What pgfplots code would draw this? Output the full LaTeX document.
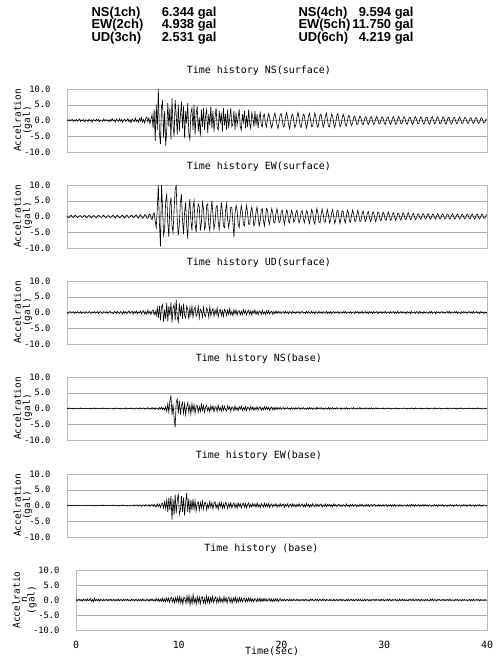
\documentclass[border=0pt]{standalone}
\usepackage{fontspec}
\setmainfont{DejaVu Sans}
\setmonofont{DejaVu Sans Mono}
\newfontfamily\hdr{Liberation Sans}
\usepackage{pgfplots}
\usepackage{pgfplotstable}
\pgfplotsset{compat=1.18}

% NS surface (0.1 s per value)
\pgfplotstableread[header=false,row sep=\\]{
0.2\\-0.1\\0.3\\-0.2\\0.1\\0.4\\-0.3\\0.2\\-0.1\\0.3\\
-0.2\\0.1\\0.5\\-0.3\\0.2\\-0.1\\0.3\\-0.4\\0.2\\0.1\\
-0.3\\0.4\\-0.1\\0.2\\-0.5\\0.3\\0.1\\-0.2\\0.4\\-0.1\\
0.3\\-0.4\\0.2\\0.1\\-0.3\\0.5\\-0.2\\0.3\\-0.1\\0.2\\
-0.4\\0.3\\-0.2\\0.6\\-0.1\\0.2\\-0.5\\0.4\\0.1\\-0.3\\
0.5\\-0.2\\0.3\\-0.6\\0.2\\0.4\\-0.3\\0.1\\0.6\\-0.4\\
0.3\\-0.7\\0.5\\0.1\\-0.4\\0.8\\-0.3\\0.2\\-0.6\\0.7\\
-0.2\\0.9\\-0.5\\0.3\\-0.8\\0.6\\1.1\\-0.4\\0.8\\-1.0\\
0.5\\1.8\\-2.5\\3.5\\-6.5\\5.0\\-3.0\\10.0\\-4.0\\-7.5\\
4.5\\6.0\\-5.5\\3.0\\-8.0\\-3.0\\5.5\\-2.0\\4.0\\-6.0\\
7.0\\-1.5\\-5.0\\6.5\\2.0\\-4.5\\5.0\\-3.5\\1.5\\6.0\\
-2.5\\4.5\\-5.5\\3.0\\-1.0\\5.5\\-4.0\\-6.0\\2.5\\4.0\\
-3.0\\5.0\\-4.5\\2.0\\4.5\\-3.5\\1.0\\-5.0\\3.5\\-2.0\\
4.0\\-3.0\\1.5\\3.5\\-4.0\\2.0\\-1.5\\4.5\\-2.5\\3.0\\
-3.5\\1.0\\4.0\\-2.0\\-3.0\\3.0\\-1.0\\2.5\\-3.5\\4.0\\
-1.5\\2.0\\-3.0\\3.5\\-2.5\\1.0\\4.0\\-2.0\\-1.0\\3.0\\
-3.0\\2.5\\-1.5\\1.0\\3.5\\-2.0\\-3.0\\2.0\\-0.5\\3.0\\
-2.5\\1.5\\-2.0\\3.5\\-1.0\\-2.5\\2.5\\1.0\\-2.0\\3.0\\
-1.5\\2.0\\-2.5\\1.0\\2.5\\-1.5\\-2.0\\1.5\\2.0\\-1.0\\
-2.0\\0.5\\2.2\\1.0\\-1.2\\-2.3\\-0.8\\1.2\\2.4\\0.6\\
-1.5\\-2.5\\-0.5\\1.8\\2.2\\0.2\\-2.0\\-1.8\\0.8\\2.5\\
1.2\\-1.2\\-2.6\\-0.6\\1.6\\2.0\\-0.2\\-2.2\\-1.4\\1.0\\
2.6\\0.8\\-1.6\\-2.2\\0.0\\2.0\\1.6\\-0.8\\-2.4\\-1.0\\
1.4\\2.2\\0.2\\-2.0\\-1.8\\0.6\\2.4\\1.0\\-1.4\\-2.2\\
-0.4\\1.8\\2.0\\-0.2\\-2.2\\-1.2\\1.2\\2.4\\0.4\\-1.8\\
-2.0\\0.2\\2.0\\1.4\\-1.0\\-2.2\\-0.6\\1.6\\2.2\\0.0\\
-2.0\\-1.4\\0.8\\2.0\\1.0\\-1.2\\-1.8\\-0.2\\1.6\\1.4\\
-0.6\\-1.6\\-0.8\\1.0\\1.4\\0.2\\-1.2\\-1.2\\0.4\\1.4\\
0.8\\-0.8\\-1.4\\-0.2\\1.2\\1.0\\-0.6\\-1.3\\-0.4\\1.0\\
1.2\\-0.2\\-1.2\\-0.8\\0.6\\1.3\\0.4\\-1.0\\-1.1\\0.2\\
1.2\\0.8\\-0.6\\-1.3\\-0.2\\1.0\\1.1\\-0.4\\-1.2\\-0.6\\
0.8\\1.2\\0.0\\-1.2\\-0.8\\0.6\\1.3\\0.4\\-1.0\\-1.0\\
0.4\\1.2\\0.6\\-0.8\\-1.2\\-0.2\\1.0\\1.0\\-0.4\\-1.2\\
-0.6\\0.8\\1.2\\0.2\\-1.0\\-1.0\\0.4\\1.2\\0.6\\-0.8\\
-1.2\\-0.2\\1.0\\1.0\\-0.4\\-1.2\\-0.6\\0.8\\1.2\\0.0\\
-1.0\\-0.8\\0.6\\1.2\\0.4\\-1.0\\-1.0\\0.2\\1.1\\0.8\\
-0.6\\-1.2\\-0.2\\1.0\\0.9\\-0.4\\-1.1\\-0.6\\0.8\\1.0\\
0.0\\-1.0\\-0.8\\0.6\\1.1\\0.2\\-0.9\\-0.9\\0.4\\1.0\\
0.6\\-0.6\\-1.0\\-0.2\\0.9\\0.8\\-0.4\\-1.0\\-0.4\\0.8\\
0.9\\-0.2\\-0.9\\-0.6\\0.6\\0.9\\0.0\\-0.8\\-0.6\\0.4\\
0.5\\
}\dataA

% EW surface
\pgfplotstableread[header=false,row sep=\\]{
0.3\\-0.2\\-0.4\\0.2\\0.4\\-0.1\\-0.4\\0.1\\0.4\\0.0\\
-0.4\\-0.1\\0.3\\0.3\\-0.3\\-0.3\\0.2\\0.4\\-0.2\\-0.4\\
0.1\\0.4\\0.0\\-0.4\\-0.2\\0.3\\0.3\\-0.2\\-0.4\\0.1\\
0.4\\0.1\\-0.3\\-0.3\\0.2\\0.4\\-0.1\\-0.4\\0.0\\0.3\\
0.2\\-0.3\\-0.3\\0.2\\0.4\\-0.1\\-0.5\\0.1\\0.4\\0.1\\
-0.4\\-0.2\\0.3\\0.4\\-0.2\\-0.5\\0.1\\0.5\\0.0\\-0.4\\
-0.1\\0.4\\0.3\\-0.4\\-0.3\\0.3\\0.5\\-0.2\\-0.5\\0.2\\
0.6\\0.0\\-0.6\\-0.2\\0.6\\0.4\\-0.5\\-0.6\\0.5\\0.8\\
-0.4\\-1.0\\0.6\\1.2\\-1.5\\-3.5\\2.5\\10.0\\-2.0\\-9.5\\
10.0\\3.0\\-6.0\\-4.0\\5.0\\7.0\\-2.0\\-6.5\\3.5\\6.0\\
-3.0\\-5.0\\2.0\\8.5\\10.0\\-1.0\\-6.0\\-2.5\\4.5\\7.0\\
-1.0\\-5.5\\1.5\\4.5\\-3.0\\-7.0\\2.0\\5.5\\-1.5\\-4.5\\
3.0\\5.0\\-2.5\\-5.0\\1.0\\4.0\\3.0\\-4.5\\-2.0\\4.5\\
2.5\\-4.0\\-3.0\\3.5\\4.0\\-2.5\\-4.5\\1.0\\5.0\\0.5\\
-4.0\\-2.0\\3.0\\3.5\\-1.5\\-4.0\\0.0\\4.5\\1.5\\-3.0\\
-3.5\\2.0\\4.0\\-1.0\\-3.5\\-1.0\\3.0\\3.0\\-2.0\\-6.5\\
1.0\\3.5\\2.0\\-2.5\\-3.5\\0.5\\3.5\\1.5\\-2.5\\-3.0\\
1.0\\3.5\\1.0\\-2.5\\-2.5\\1.5\\3.0\\0.5\\-3.0\\-2.0\\
1.5\\3.0\\0.0\\-3.0\\-1.5\\2.0\\2.5\\-1.0\\-3.0\\-0.5\\
2.5\\2.0\\-1.5\\-2.5\\0.5\\2.5\\1.0\\-2.0\\-2.0\\1.0\\
2.5\\0.5\\-2.0\\-1.5\\1.5\\2.0\\-0.5\\-2.5\\-0.5\\2.0\\
1.5\\-1.5\\-2.0\\0.5\\2.0\\0.5\\-1.8\\-1.2\\1.2\\2.0\\
-0.2\\-2.0\\-1.0\\1.5\\1.8\\-0.5\\-2.0\\-0.5\\1.8\\1.4\\
-1.0\\-2.2\\0.0\\2.2\\1.2\\-1.4\\-2.4\\0.4\\2.6\\1.0\\
-1.8\\-2.0\\0.6\\2.4\\0.8\\-1.8\\-1.8\\0.8\\2.2\\0.4\\
-2.0\\-1.2\\1.2\\2.2\\0.0\\-2.2\\-1.0\\1.6\\2.0\\-0.4\\
-2.2\\-0.6\\1.8\\1.6\\-0.8\\-2.0\\-0.2\\2.0\\1.2\\-1.4\\
-1.8\\0.4\\2.0\\0.8\\-1.4\\-1.6\\0.6\\2.0\\0.4\\-1.6\\
-1.4\\0.8\\1.8\\0.2\\-1.6\\-1.0\\1.0\\1.6\\-0.2\\-1.6\\
-0.8\\1.2\\1.4\\-0.4\\-1.6\\-0.4\\1.4\\1.2\\-0.8\\-1.4\\
0.0\\1.4\\0.8\\-1.0\\-1.2\\0.4\\1.4\\0.4\\-1.2\\-0.8\\
0.8\\1.2\\-0.2\\-1.2\\-0.4\\1.0\\1.0\\-0.6\\-1.2\\0.0\\
1.2\\0.6\\-0.8\\-1.0\\0.4\\1.2\\0.2\\-1.0\\-0.6\\0.6\\
1.0\\-0.2\\-1.0\\-0.4\\0.8\\0.8\\-0.4\\-0.9\\0.0\\0.9\\
0.5\\-0.7\\-0.8\\0.4\\0.9\\0.0\\-0.9\\-0.4\\0.7\\0.7\\
-0.4\\-0.8\\0.2\\0.9\\0.3\\-0.8\\-0.6\\0.5\\0.8\\-0.2\\
-0.8\\-0.2\\0.8\\0.6\\-0.5\\-0.8\\0.2\\0.9\\0.2\\-0.7\\
-0.6\\0.4\\0.8\\-0.1\\-0.8\\-0.3\\0.7\\0.6\\-0.4\\-0.8\\
0.0\\0.8\\0.4\\-0.6\\-0.7\\0.3\\0.8\\0.0\\-0.8\\-0.4\\
0.6\\0.7\\-0.3\\-0.8\\0.0\\0.8\\0.4\\-0.6\\-0.6\\0.3\\
0.6\\
}\dataB

% UD surface
\pgfplotstableread[header=false,row sep=\\]{
0.2\\-0.3\\0.1\\0.3\\-0.2\\0.0\\0.3\\-0.3\\0.2\\-0.1\\
0.3\\-0.2\\-0.1\\0.3\\-0.3\\0.2\\0.1\\-0.3\\0.3\\-0.1\\
-0.2\\0.3\\0.1\\-0.3\\0.2\\-0.1\\0.3\\-0.2\\0.0\\0.3\\
-0.3\\0.2\\0.3\\-0.1\\-0.3\\0.3\\0.1\\-0.2\\0.3\\-0.3\\
0.1\\0.4\\-0.2\\0.0\\-0.4\\0.3\\0.2\\-0.3\\0.4\\-0.1\\
-0.3\\0.3\\0.1\\-0.5\\0.4\\-0.2\\0.3\\-0.4\\0.2\\0.5\\
-0.3\\0.1\\0.4\\-0.5\\0.3\\-0.2\\0.5\\-0.4\\0.2\\-0.1\\
0.5\\-0.4\\0.3\\0.6\\-0.5\\0.2\\-0.6\\0.7\\-0.3\\0.4\\
-0.6\\0.5\\0.8\\-0.7\\0.4\\-1.0\\1.5\\-1.8\\2.2\\-2.5\\
1.8\\2.5\\-3.0\\1.0\\-2.0\\3.0\\-2.8\\2.0\\-1.0\\3.2\\
-3.2\\1.5\\2.5\\-2.5\\4.0\\-1.5\\-3.0\\3.0\\-1.2\\2.2\\
-2.0\\2.8\\-1.0\\-1.8\\2.0\\1.0\\-2.2\\1.5\\-0.8\\2.0\\
-1.5\\0.8\\1.8\\-1.2\\-0.5\\2.0\\-1.6\\1.0\\0.5\\-1.5\\
1.6\\-0.8\\-1.2\\1.4\\0.6\\-1.5\\1.8\\-1.0\\0.4\\1.2\\
-1.2\\0.8\\-0.6\\1.5\\-1.4\\0.4\\1.0\\-1.0\\0.6\\-1.2\\
1.0\\0.5\\-1.0\\0.8\\-0.6\\1.2\\-0.8\\0.3\\-1.0\\0.9\\
-0.4\\0.8\\-0.9\\0.5\\0.6\\-0.8\\0.4\\-0.7\\0.9\\-0.3\\
0.6\\-0.8\\0.3\\0.7\\-0.6\\0.5\\-0.8\\0.6\\-0.2\\0.8\\
-0.6\\0.4\\-0.7\\0.5\\0.3\\-0.6\\0.7\\-0.4\\0.2\\-0.6\\
0.5\\-0.3\\0.6\\-0.5\\0.2\\0.4\\-0.6\\0.3\\-0.4\\0.5\\
-0.3\\0.4\\-0.2\\0.3\\-0.4\\0.1\\0.3\\-0.3\\0.4\\-0.2\\
0.2\\-0.4\\0.3\\0.1\\-0.3\\0.4\\-0.2\\0.2\\-0.3\\0.3\\
-0.1\\0.3\\-0.4\\0.2\\0.3\\-0.2\\0.1\\-0.3\\0.4\\-0.2\\
0.3\\-0.1\\-0.3\\0.4\\-0.2\\0.2\\-0.4\\0.3\\0.0\\-0.3\\
0.4\\-0.2\\0.2\\-0.3\\0.3\\-0.1\\-0.2\\0.4\\-0.3\\0.2\\
-0.2\\0.3\\-0.4\\0.1\\0.3\\-0.3\\0.2\\-0.1\\0.3\\-0.4\\
0.2\\0.1\\-0.3\\0.3\\-0.2\\0.4\\-0.3\\0.1\\0.2\\-0.2\\
0.3\\-0.3\\0.1\\0.2\\-0.4\\0.3\\-0.1\\0.3\\-0.3\\0.2\\
-0.2\\0.4\\-0.3\\0.0\\0.3\\-0.2\\0.2\\-0.4\\0.3\\-0.1\\
0.2\\-0.3\\0.3\\-0.2\\0.1\\0.3\\-0.4\\0.2\\-0.1\\0.3\\
-0.3\\0.2\\-0.1\\0.4\\-0.3\\0.1\\0.2\\-0.3\\0.3\\-0.2\\
0.1\\0.3\\-0.3\\0.2\\-0.2\\0.4\\-0.3\\0.0\\0.3\\-0.2\\
0.3\\-0.2\\0.1\\-0.4\\0.3\\-0.1\\0.2\\-0.3\\0.4\\-0.2\\
-0.1\\0.2\\-0.3\\0.3\\0.1\\-0.3\\0.4\\-0.2\\0.1\\-0.3\\
0.3\\-0.2\\0.2\\-0.1\\-0.3\\0.3\\-0.2\\0.4\\-0.3\\0.1\\
0.2\\-0.4\\0.3\\-0.1\\0.2\\-0.3\\0.1\\0.3\\-0.2\\0.2\\
-0.3\\0.1\\0.3\\-0.2\\0.4\\-0.3\\0.2\\-0.1\\-0.2\\0.3\\
-0.1\\0.3\\-0.3\\0.2\\0.1\\-0.4\\0.3\\-0.2\\0.3\\-0.1\\
0.2\\-0.3\\0.1\\0.3\\-0.2\\0.2\\-0.3\\0.4\\-0.2\\0.0\\
0.3\\-0.2\\0.2\\-0.4\\0.3\\-0.1\\0.2\\-0.3\\0.2\\-0.2\\
0.1\\
}\dataC

% NS base
\pgfplotstableread[header=false,row sep=\\]{
0.1\\-0.1\\0.2\\-0.1\\0.0\\0.1\\-0.2\\0.1\\0.0\\-0.1\\
0.1\\0.0\\-0.1\\0.2\\-0.1\\0.1\\-0.1\\0.0\\0.1\\-0.1\\
0.0\\0.1\\-0.2\\0.1\\0.0\\-0.1\\0.2\\-0.1\\0.1\\0.0\\
-0.1\\0.1\\0.0\\-0.1\\0.2\\-0.1\\0.0\\0.1\\-0.2\\0.1\\
0.0\\-0.1\\0.1\\0.1\\-0.2\\0.1\\-0.1\\0.2\\0.0\\-0.1\\
0.1\\-0.2\\0.1\\0.0\\0.1\\-0.1\\0.2\\-0.2\\0.1\\0.0\\
-0.1\\0.2\\-0.1\\0.1\\-0.2\\0.0\\0.2\\-0.1\\0.1\\-0.2\\
0.2\\-0.1\\0.0\\0.2\\-0.2\\0.1\\-0.1\\0.3\\-0.2\\0.1\\
-0.2\\0.3\\-0.1\\0.2\\-0.3\\0.2\\0.0\\-0.3\\0.3\\-0.2\\
0.4\\-0.3\\0.2\\-0.5\\0.6\\-1.0\\1.5\\-1.2\\2.5\\4.0\\
-2.0\\1.5\\-3.0\\-6.0\\2.0\\3.0\\-1.5\\2.5\\-2.0\\1.0\\
2.0\\-1.5\\1.5\\-2.0\\0.5\\1.8\\-1.2\\1.0\\-1.8\\1.5\\
-0.8\\1.2\\-1.5\\0.8\\1.0\\-1.2\\0.6\\-1.0\\1.4\\-0.6\\
0.9\\-1.2\\0.5\\1.0\\-0.8\\0.4\\-1.1\\0.9\\-0.4\\0.8\\
-1.0\\0.6\\0.4\\-0.9\\1.1\\-0.5\\0.3\\-0.8\\0.9\\-0.6\\
0.7\\-0.4\\-0.8\\0.9\\-0.3\\0.6\\-0.9\\0.5\\0.4\\-0.7\\
0.8\\-0.5\\0.3\\-0.7\\0.6\\-0.2\\0.8\\-0.6\\0.3\\-0.4\\
0.6\\-0.7\\0.4\\0.2\\-0.6\\0.7\\-0.3\\0.5\\-0.6\\0.3\\
-0.4\\0.6\\-0.5\\0.3\\0.5\\-0.6\\0.2\\-0.4\\0.6\\-0.3\\
0.5\\-0.3\\0.4\\-0.6\\0.2\\0.5\\-0.4\\0.3\\-0.5\\0.4\\
-0.3\\0.3\\-0.2\\0.4\\-0.3\\0.1\\0.3\\-0.3\\0.2\\-0.1\\
0.3\\-0.2\\0.1\\-0.3\\0.3\\-0.1\\0.2\\-0.3\\0.3\\-0.2\\
0.1\\0.3\\-0.3\\0.2\\-0.1\\0.3\\-0.2\\0.1\\-0.3\\0.2\\
-0.2\\0.3\\-0.1\\0.2\\-0.3\\0.2\\0.1\\-0.3\\0.4\\-0.2\\
0.2\\-0.1\\0.3\\-0.2\\0.1\\-0.3\\0.2\\0.0\\-0.2\\0.3\\
-0.3\\0.2\\-0.1\\0.3\\-0.2\\0.1\\-0.2\\0.3\\-0.1\\0.1\\
0.2\\-0.3\\0.2\\-0.1\\0.2\\-0.2\\0.3\\-0.2\\0.1\\-0.2\\
0.1\\0.2\\-0.2\\0.3\\-0.1\\0.0\\-0.2\\0.2\\-0.1\\0.3\\
-0.2\\0.1\\-0.1\\0.2\\-0.2\\0.2\\0.1\\-0.2\\0.2\\-0.1\\
0.2\\-0.2\\0.1\\-0.1\\0.2\\-0.1\\0.2\\-0.2\\0.0\\0.1\\
-0.1\\0.2\\-0.2\\0.1\\0.0\\-0.1\\0.2\\-0.1\\0.1\\-0.2\\
0.1\\0.0\\-0.1\\0.2\\-0.1\\0.1\\-0.2\\0.1\\0.1\\-0.1\\
0.0\\0.2\\-0.1\\0.1\\-0.2\\0.1\\0.0\\-0.1\\0.2\\-0.1\\
0.1\\-0.2\\0.2\\-0.1\\0.1\\0.0\\-0.1\\0.2\\-0.2\\0.1\\
-0.1\\0.1\\0.0\\0.2\\-0.2\\0.1\\-0.1\\0.1\\0.1\\-0.2\\
0.2\\-0.1\\0.1\\-0.1\\0.0\\0.2\\-0.2\\0.1\\-0.1\\0.1\\
0.0\\-0.1\\0.2\\-0.2\\0.1\\0.1\\-0.1\\0.0\\0.2\\-0.1\\
0.1\\-0.2\\0.1\\0.0\\-0.1\\0.2\\-0.1\\0.1\\-0.2\\0.1\\
0.0\\0.1\\-0.1\\0.2\\-0.1\\0.0\\0.1\\-0.2\\0.1\\0.0\\
-0.1\\0.2\\-0.1\\0.1\\0.0\\-0.2\\0.1\\0.1\\-0.1\\0.1\\
0.0\\
}\dataD

% EW base
\pgfplotstableread[header=false,row sep=\\]{
0.0\\0.1\\-0.1\\0.1\\0.0\\-0.1\\0.1\\-0.1\\0.0\\0.1\\
-0.1\\0.1\\0.0\\-0.1\\0.1\\0.1\\-0.1\\0.0\\0.1\\-0.1\\
0.1\\-0.1\\0.1\\0.0\\-0.1\\0.1\\-0.2\\0.1\\0.0\\0.1\\
-0.1\\0.0\\0.1\\-0.1\\0.2\\-0.1\\0.0\\0.1\\-0.1\\0.0\\
0.1\\-0.1\\0.0\\0.2\\-0.1\\0.1\\-0.1\\0.0\\0.1\\-0.2\\
0.1\\0.0\\-0.1\\0.2\\-0.1\\0.0\\0.1\\-0.2\\0.1\\0.1\\
-0.2\\0.1\\0.1\\-0.2\\0.2\\-0.1\\0.0\\0.2\\-0.2\\0.1\\
0.2\\-0.3\\0.1\\0.2\\-0.2\\0.3\\-0.1\\-0.2\\0.3\\-0.3\\
0.2\\0.3\\-0.3\\0.4\\-0.2\\-0.4\\0.5\\-0.3\\0.4\\-0.6\\
0.5\\0.7\\-0.8\\1.2\\-1.0\\1.8\\-2.0\\2.5\\-1.5\\3.0\\
-4.5\\2.0\\-3.0\\3.5\\-2.5\\1.5\\3.8\\-2.8\\-1.5\\3.0\\
-2.0\\2.5\\-3.2\\1.0\\4.0\\-2.0\\2.2\\-2.5\\1.8\\-1.5\\
2.0\\-1.2\\1.5\\-1.8\\0.6\\1.2\\-1.5\\1.0\\-0.8\\1.4\\
-1.2\\0.8\\1.0\\-1.4\\0.5\\-0.8\\1.3\\-0.6\\0.9\\-1.1\\
0.6\\1.2\\-0.8\\0.4\\-1.2\\0.9\\-0.4\\1.0\\-0.9\\0.5\\
-0.8\\1.0\\0.4\\-1.0\\0.7\\-0.5\\0.9\\-0.8\\0.3\\0.8\\
-0.7\\0.5\\-0.9\\0.8\\-0.3\\0.6\\-0.8\\0.4\\0.7\\-0.5\\
0.6\\-0.7\\0.3\\0.8\\-0.6\\0.4\\-0.5\\0.7\\-0.3\\0.5\\
-0.6\\0.8\\-0.4\\0.3\\-0.7\\0.6\\0.2\\-0.5\\0.7\\-0.4\\
0.5\\-0.3\\0.6\\-0.6\\0.3\\0.5\\-0.5\\0.4\\-0.2\\0.6\\
-0.5\\0.3\\-0.4\\0.6\\-0.3\\0.2\\0.5\\-0.6\\0.4\\-0.2\\
0.5\\-0.5\\0.2\\0.4\\-0.4\\0.6\\-0.3\\0.3\\-0.5\\0.4\\
-0.3\\0.6\\-0.4\\0.2\\0.5\\-0.4\\0.3\\-0.5\\0.6\\-0.2\\
0.4\\-0.5\\0.3\\-0.3\\0.6\\-0.2\\-0.4\\0.5\\-0.3\\0.4\\
-0.4\\0.3\\0.5\\-0.5\\0.2\\-0.3\\0.5\\-0.4\\0.3\\-0.2\\
0.4\\-0.3\\0.2\\-0.4\\0.5\\-0.2\\0.3\\-0.4\\0.2\\0.4\\
-0.3\\0.2\\-0.4\\0.3\\0.1\\-0.3\\0.5\\-0.2\\0.2\\-0.4\\
0.3\\-0.2\\0.4\\-0.3\\0.2\\0.3\\-0.4\\0.2\\-0.3\\0.4\\
-0.2\\0.4\\-0.3\\0.1\\-0.3\\0.4\\-0.2\\0.3\\-0.4\\0.2\\
0.3\\-0.3\\0.2\\0.4\\-0.3\\0.1\\-0.2\\0.4\\-0.3\\0.2\\
-0.2\\0.3\\-0.3\\0.2\\0.3\\-0.4\\0.2\\-0.1\\0.3\\-0.3\\
0.2\\-0.2\\0.4\\-0.3\\0.1\\0.2\\-0.3\\0.3\\-0.2\\0.2\\
-0.3\\0.2\\0.1\\-0.3\\0.3\\-0.2\\0.2\\-0.3\\0.4\\-0.1\\
0.2\\-0.3\\0.3\\-0.2\\0.1\\0.3\\-0.3\\0.2\\-0.2\\0.3\\
-0.2\\0.3\\-0.1\\0.2\\-0.3\\0.2\\0.2\\-0.3\\0.1\\-0.2\\
0.3\\-0.2\\0.2\\-0.3\\0.3\\-0.1\\0.2\\-0.2\\0.3\\-0.3\\
0.1\\0.2\\-0.3\\0.2\\-0.2\\0.3\\-0.1\\0.2\\-0.3\\0.2\\
-0.1\\0.3\\-0.2\\0.1\\0.2\\-0.3\\0.2\\-0.2\\0.3\\-0.1\\
0.2\\-0.3\\0.2\\-0.1\\0.3\\-0.2\\0.1\\0.2\\-0.3\\0.2\\
-0.2\\0.2\\-0.1\\0.3\\-0.2\\0.1\\-0.2\\0.2\\0.1\\-0.2\\
0.1\\
}\dataE

% UD base
\pgfplotstableread[header=false,row sep=\\]{
0.2\\-0.3\\0.1\\0.3\\-0.2\\0.2\\-0.4\\0.3\\-0.1\\0.2\\
-0.3\\0.4\\-0.2\\0.1\\0.5\\-0.4\\0.2\\-0.6\\0.6\\-0.3\\
0.2\\-0.2\\0.3\\-0.4\\0.2\\0.1\\-0.3\\0.3\\-0.2\\0.1\\
0.3\\-0.3\\0.2\\-0.1\\0.3\\-0.3\\0.1\\0.2\\-0.3\\0.2\\
-0.2\\0.3\\-0.3\\0.2\\0.1\\-0.3\\0.3\\-0.2\\0.2\\-0.1\\
0.3\\-0.2\\0.1\\-0.3\\0.3\\-0.1\\0.2\\-0.3\\0.2\\0.1\\
-0.3\\0.3\\-0.2\\0.2\\-0.3\\0.4\\-0.2\\0.1\\-0.3\\0.3\\
0.2\\-0.4\\0.3\\-0.2\\0.4\\-0.3\\0.2\\-0.4\\0.5\\-0.3\\
0.4\\-0.5\\0.3\\-0.4\\0.6\\-0.5\\0.4\\-0.6\\0.7\\-0.4\\
0.6\\-0.8\\0.5\\0.9\\-0.7\\0.6\\-1.0\\0.8\\-0.6\\1.1\\
-0.9\\1.2\\-1.0\\0.7\\-1.3\\1.0\\0.5\\-1.1\\1.4\\-0.8\\
1.5\\-1.6\\0.9\\-1.2\\1.8\\-1.0\\0.6\\-1.4\\1.2\\-0.9\\
1.0\\-1.3\\0.8\\1.1\\-1.0\\0.6\\-1.2\\1.3\\-0.7\\0.9\\
-1.1\\0.8\\-0.6\\1.2\\-0.9\\0.5\\1.0\\-1.0\\0.7\\-0.8\\
1.0\\-0.7\\0.5\\-0.9\\1.1\\-0.6\\0.8\\-1.0\\0.6\\0.9\\
-0.8\\0.6\\-1.0\\0.7\\-0.4\\1.0\\-0.8\\0.5\\-0.7\\0.8\\
-0.5\\0.7\\-0.6\\0.4\\0.6\\-0.7\\0.5\\-0.5\\0.7\\-0.4\\
0.6\\-0.5\\0.4\\-0.6\\0.5\\0.3\\-0.6\\0.5\\-0.4\\0.6\\
-0.5\\0.4\\-0.5\\0.6\\-0.3\\0.4\\-0.5\\0.3\\0.5\\-0.4\\
0.4\\-0.5\\0.3\\-0.4\\0.5\\-0.3\\0.4\\-0.5\\0.3\\0.4\\
-0.3\\0.2\\-0.2\\0.3\\-0.3\\0.1\\0.2\\-0.3\\0.3\\-0.2\\
0.2\\-0.3\\0.3\\0.0\\-0.2\\0.3\\-0.2\\0.2\\-0.3\\0.2\\
-0.1\\0.2\\-0.3\\0.3\\0.2\\-0.2\\0.1\\-0.3\\0.3\\-0.1\\
0.3\\-0.2\\-0.2\\0.3\\-0.1\\0.2\\-0.3\\0.2\\0.1\\-0.3\\
0.3\\-0.1\\0.2\\-0.3\\0.2\\0.0\\-0.2\\0.3\\-0.2\\0.1\\
-0.2\\0.3\\-0.3\\0.1\\0.2\\-0.3\\0.2\\-0.1\\0.3\\-0.3\\
0.2\\0.0\\-0.3\\0.2\\-0.2\\0.3\\-0.2\\0.1\\0.2\\-0.2\\
0.2\\-0.3\\0.1\\0.3\\-0.3\\0.2\\-0.1\\0.2\\-0.3\\0.1\\
-0.2\\0.3\\-0.2\\0.1\\0.2\\-0.3\\0.2\\-0.3\\0.2\\0.0\\
0.2\\-0.2\\0.3\\-0.1\\0.0\\0.2\\-0.3\\0.3\\-0.1\\0.2\\
-0.3\\0.1\\-0.1\\0.3\\-0.2\\0.2\\0.1\\-0.3\\0.2\\-0.1\\
0.1\\0.2\\-0.3\\0.1\\-0.2\\0.3\\-0.2\\0.1\\0.2\\-0.2\\
0.2\\-0.2\\0.1\\-0.3\\0.2\\0.0\\0.2\\-0.2\\0.3\\-0.2\\
0.0\\0.2\\-0.2\\0.2\\0.1\\-0.3\\0.3\\-0.1\\0.1\\-0.2\\
0.2\\-0.1\\0.2\\-0.2\\-0.2\\0.3\\-0.1\\0.3\\-0.2\\0.1\\
0.1\\-0.3\\0.2\\0.0\\0.2\\-0.2\\0.1\\0.2\\-0.2\\0.2\\
-0.2\\0.1\\0.2\\-0.2\\0.3\\-0.2\\0.1\\0.0\\-0.2\\0.2\\
0.0\\0.2\\-0.2\\0.1\\0.1\\-0.3\\0.2\\-0.1\\0.2\\-0.1\\
0.1\\-0.2\\0.1\\0.2\\-0.2\\0.2\\-0.2\\0.3\\-0.1\\0.0\\
0.2\\-0.1\\0.2\\-0.3\\0.2\\-0.1\\0.1\\-0.2\\0.2\\-0.1\\
0.0\\
}\dataF

\pgfplotsset{
  seis/.style={
    scale only axis, width=420bp, height=63bp,
    xmin=0, xmax=40, ymin=-10, ymax=10,
    xtick={0,10,20,30,40}, xticklabels={},
    ytick={-10,-5,0,5,10},
    major tick length=0pt,
    ymajorgrids,
    grid style={gray!65, line width=0.5pt},
    axis line style={gray!55, line width=0.5pt},
    /pgf/number format/assume math mode=true,
    yticklabel={\pgfmathprintnumber[fixed,fixed zerofill,precision=1]{\tick}},
    yticklabel style={font=\ttfamily\fontsize{8.8}{8.8}\selectfont, xshift=-13bp},
    title style={at={(axis description cs:0.457,1.2)}, anchor=center,
      font=\ttfamily\fontsize{10}{10}\selectfont},
    every axis y label/.style={at={(axis description cs:-0.105,0.5)}, rotate=90,
      anchor=center, align=center, font=\ttfamily\fontsize{9.5}{9.5}\selectfont},
    ylabel={Accelration\\(gal)},
    cycle list={{black, line width=0.6bp, mark=none}},
  },
  sig/.style={black, line width=0.6bp, mark=none}
}

\begin{document}
\begin{tikzpicture}
\useasboundingbox (0,0) rectangle (500bp,-656bp);

\begin{scope}[font=\hdr\bfseries\fontsize{13}{13}\selectfont]
\node[anchor=west] at (88bp,-13bp) {NS(1ch)};
\node[anchor=east] at (220bp,-13bp) {6.344 gal};
\node[anchor=west] at (88bp,-25.5bp) {EW(2ch)};
\node[anchor=east] at (220bp,-25.5bp) {4.938 gal};
\node[anchor=west] at (88bp,-38bp) {UD(3ch)};
\node[anchor=east] at (220bp,-38bp) {2.531 gal};
\node[anchor=west] at (295bp,-13bp) {NS(4ch)};
\node[anchor=east] at (417bp,-13bp) {9.594 gal};
\node[anchor=west] at (295bp,-25.5bp) {EW(5ch)};
\node[anchor=east] at (417bp,-25.5bp) {11.750 gal};
\node[anchor=west] at (295bp,-38bp) {UD(6ch)};
\node[anchor=east] at (417bp,-38bp) {4.219 gal};
\end{scope}

\begin{axis}[seis, at={(67bp,-89bp)}, anchor=north west, title={Time history NS(surface)}]
\addplot[sig] table[x expr=\coordindex/10, y index=0] {\dataA};
\end{axis}

\begin{axis}[seis, at={(67bp,-185bp)}, anchor=north west, title={Time history EW(surface)}]
\addplot[sig] table[x expr=\coordindex/10, y index=0] {\dataB};
\end{axis}

\begin{axis}[seis, at={(67bp,-281bp)}, anchor=north west, title={Time history UD(surface)}]
\addplot[sig] table[x expr=\coordindex/10, y index=0] {\dataC};
\end{axis}

\begin{axis}[seis, at={(67bp,-377bp)}, anchor=north west, title={Time history NS(base)}]
\addplot[sig] table[x expr=\coordindex/10, y index=0] {\dataD};
\end{axis}

\begin{axis}[seis, at={(67bp,-474bp)}, anchor=north west, title={Time history EW(base)}]
\addplot[sig] table[x expr=\coordindex/10, y index=0] {\dataE};
\end{axis}

\begin{axis}[seis, at={(76bp,-570bp)}, anchor=north west, width=411bp, height=60bp,
  title={Time history (base)},
  title style={at={(axis description cs:0.451,1.25)}},
  xticklabels={0,10,20,30,40},
  xticklabel style={font=\ttfamily\fontsize{10}{10}\selectfont, yshift=-8bp},
  xlabel={Time(sec)},
  xlabel style={at={(axis description cs:0.477,-0.35)}, anchor=center,
    font=\ttfamily\fontsize{10}{10}\selectfont},
  ylabel={Accelratio\\n\\(gal)},
  every axis y label/.style={at={(axis description cs:-0.125,0.5)}, rotate=90,
    anchor=center, align=center, font=\ttfamily\fontsize{9.5}{7.5}\selectfont}]
\addplot[sig] table[x expr=\coordindex/10, y index=0] {\dataF};
\end{axis}
\end{tikzpicture}
\end{document}
